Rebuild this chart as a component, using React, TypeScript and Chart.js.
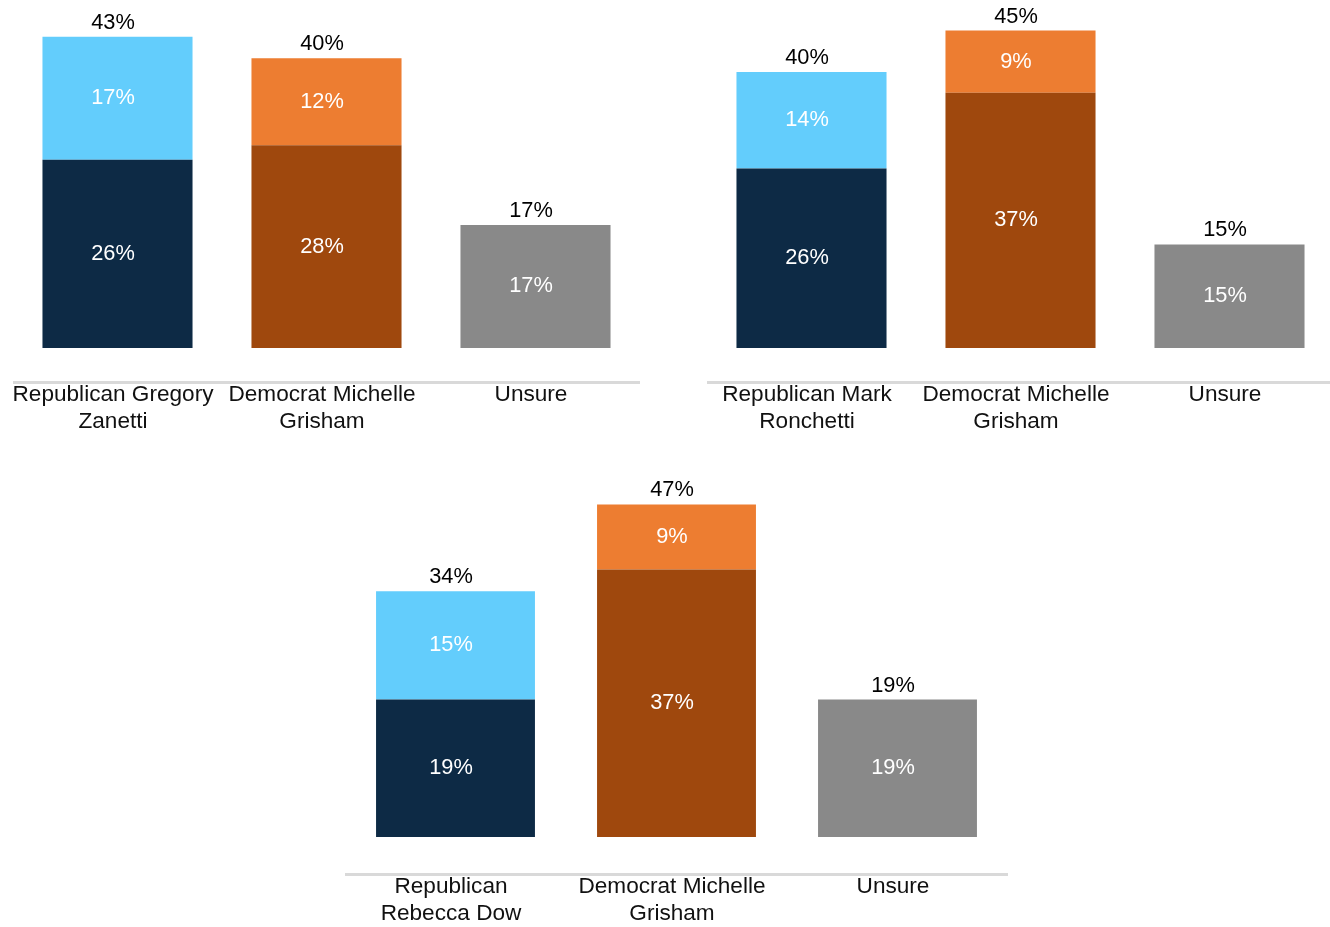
import React, { useEffect, useRef } from "react";
import { Chart, registerables } from "chart.js";

Chart.register(...registerables);

// ---------- data ----------
const zanettiCategories = [["Republican Gregory", "Zanetti"], ["Democrat Michelle", "Grisham"], ["Unsure"]];
const zanettiSure = [26, 28, 17];
const zanettiLean = [17, 12, 0];
const zanettiTotals = [43, 40, 17];

const ronchettiCategories = [["Republican Mark", "Ronchetti"], ["Democrat Michelle", "Grisham"], ["Unsure"]];
const ronchettiSure = [26, 37, 15];
const ronchettiLean = [14, 9, 0];
const ronchettiTotals = [40, 45, 15];

const dowCategories = [["Republican", "Rebecca Dow"], ["Democrat Michelle", "Grisham"], ["Unsure"]];
const dowSure = [19, 37, 19];
const dowLean = [15, 9, 0];
const dowTotals = [34, 47, 19];

// ---------- styles ----------
const NAVY = "#0d2a45";
const LIGHT_BLUE = "#63cdfc";
const DARK_ORANGE = "#9f480d";
const ORANGE = "#ed7d31";
const GRAY = "#898989";
const FONT = '"Liberation Sans", Arial, Helvetica, sans-serif';
const TEXT_DX = -4.5;

const sureColors = [NAVY, DARK_ORANGE, GRAY];
const leanColors = [LIGHT_BLUE, ORANGE, "rgba(0,0,0,0)"];

const valueLabelPlugin = {
  id: "valueLabels",
  afterDatasetsDraw(chart: any, _args: any, opts: any) {
    const ctx = chart.ctx;
    const totals: number[] = opts.totals || [];
    const m0 = chart.getDatasetMeta(0);
    const m1 = chart.getDatasetMeta(1);
    ctx.save();
    ctx.font = `21.8px ${FONT}`;
    ctx.textAlign = "center";
    ctx.textBaseline = "middle";
    [m0, m1].forEach((meta: any, di: number) => {
      meta.data.forEach((bar: any, i: number) => {
        const v = chart.data.datasets[di].data[i];
        if (!v) return;
        const p = bar.getProps(["x", "y", "base"], true);
        ctx.fillStyle = "#ffffff";
        ctx.fillText(v + "%", p.x + TEXT_DX, (p.y + p.base) / 2);
      });
    });
    totals.forEach((t, i) => {
      const b0 = m0.data[i].getProps(["x", "y"], true);
      const lean = chart.data.datasets[1].data[i];
      const top = lean ? m1.data[i].getProps(["y"], true).y : b0.y;
      ctx.fillStyle = "#000000";
      ctx.fillText(t + "%", b0.x + TEXT_DX, top - 14);
    });
    ctx.restore();
  },
};

type PanelProps = {
  left: number;
  top: number;
  width: number;
  height: number;
  yMin: number;
  yMax: number;
  categories: string[][];
  sure: number[];
  lean: number[];
  totals: number[];
  barPct: number;
};

const AXIS_H = 63;

function Panel(props: PanelProps) {
  const ref = useRef<HTMLCanvasElement | null>(null);
  useEffect(() => {
    if (!ref.current) return;
    const chart = new Chart(ref.current, {
      type: "bar",
      data: {
        labels: props.categories,
        datasets: [
          {
            label: "Definitely",
            data: props.sure,
            backgroundColor: sureColors,
            borderWidth: 0,
            barPercentage: props.barPct,
            categoryPercentage: 1,
          },
          {
            label: "Lean",
            data: props.lean,
            backgroundColor: leanColors,
            borderWidth: 0,
            barPercentage: props.barPct,
            categoryPercentage: 1,
          },
        ],
      },
      options: {
        animation: false,
        responsive: false,
        maintainAspectRatio: false,
        devicePixelRatio: 1,
        layout: { padding: 0 },
        plugins: {
          legend: { display: false },
          tooltip: { enabled: false },
          valueLabels: { totals: props.totals },
        } as any,
        scales: {
          x: {
            stacked: true,
            grid: { display: false, drawTicks: false },
            border: { display: true, color: "#d9d9d9", width: 3 },
            ticks: {
              color: "#111111",
              font: { family: FONT, size: 22.6, lineHeight: 1.17 },
              padding: 0,
              labelOffset: TEXT_DX,
              autoSkip: false,
              maxRotation: 0,
              minRotation: 0,
            },
            afterFit: (scale: any) => {
              scale.height = AXIS_H;
            },
          },
          y: {
            stacked: true,
            display: false,
            min: props.yMin,
            max: props.yMax,
          },
        },
      },
      plugins: [valueLabelPlugin],
    });
    return () => chart.destroy();
  }, []);
  return (
    <div
      style={{
        position: "absolute",
        left: props.left,
        top: props.top,
        width: props.width,
        height: props.height,
      }}
    >
      <canvas
        ref={ref}
        width={props.width}
        height={props.height}
        style={{ width: props.width, height: props.height, display: "block" }}
      />
    </div>
  );
}

export default function App() {
  return (
    <div
      style={{
        position: "absolute",
        left: 0,
        top: 0,
        width: 1330,
        height: 927,
        overflow: "hidden",
        background: "#ffffff",
      }}
    >
      <Panel
        left={13}
        top={0}
        width={627}
        height={382 + AXIS_H}
        yMin={-4.7}
        yMax={48.06}
        categories={zanettiCategories}
        sure={zanettiSure}
        lean={zanettiLean}
        totals={zanettiTotals}
        barPct={0.718}
      />
      <Panel
        left={707}
        top={0}
        width={627}
        height={382 + AXIS_H}
        yMin={-4.93}
        yMax={50.43}
        categories={ronchettiCategories}
        sure={ronchettiSure}
        lean={ronchettiLean}
        totals={ronchettiTotals}
        barPct={0.718}
      />
      <Panel
        left={345}
        top={440}
        width={663}
        height={434 + AXIS_H}
        yMin={-5.12}
        yMax={54.91}
        categories={dowCategories}
        sure={dowSure}
        lean={dowLean}
        totals={dowTotals}
        barPct={0.719}
      />
    </div>
  );
}
